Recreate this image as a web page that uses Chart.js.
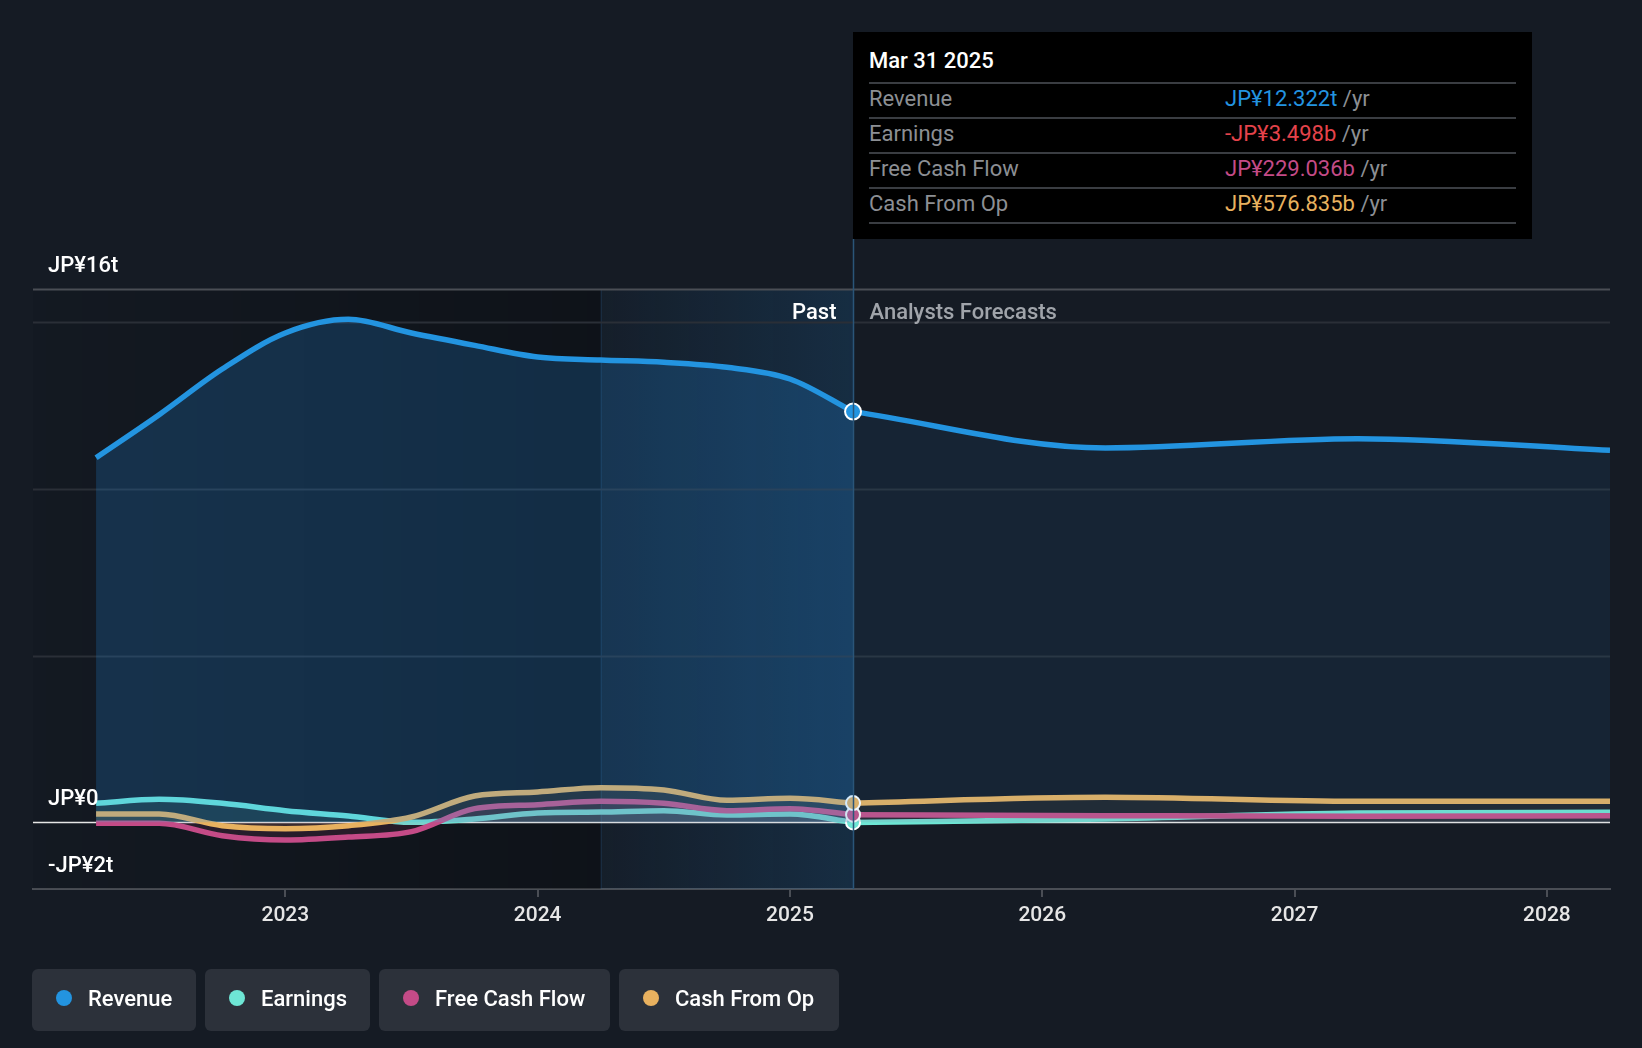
<!DOCTYPE html>
<html>
<head>
<meta charset="utf-8">
<script src="https://cdn.jsdelivr.net/npm/chart.js@4.4.1/dist/chart.umd.min.js"></script>
<style>
  html, body { margin:0; padding:0; background:#151b24; width:1642px; height:1048px; overflow:hidden; font-family: Roboto, "Noto Sans", sans-serif; }
  #wrap { position:absolute; left:0; top:0; width:1642px; height:1048px; }
  #tip { position:absolute; left:853px; top:32px; width:679px; height:207px; background:#000; box-sizing:border-box; padding:0 16px; color:#fff; }
  #tip .title { font-size:22px; height:50px; line-height:58px; border-bottom:2px solid #3a3d42; font-weight:500; }
  #tip .row { height:33px; line-height:30px; border-bottom:2px solid #3a3d42; font-size:22px; color:#8c8f94; position:relative; }
  #tip .row .v { position:absolute; left:356px; top:0; }
  #legend { position:absolute; left:32px; top:969px; display:flex; gap:9px; }
  .lg { height:62px; background:#2c313a; border-radius:6px; display:flex; align-items:center; padding:0 20px 4px 24px; color:#fff; font-size:22px; box-sizing:border-box; font-weight:500; }
  .lg .dot { width:16px; height:16px; border-radius:50%; margin-right:16px; }
</style>
</head>
<body>
<div id="wrap"><canvas id="c" width="1642" height="1048"></canvas></div>
<div id="tip">
  <div class="title">Mar 31 2025</div>
  <div class="row">Revenue<span class="v"><span style="color:#2394e0">JP¥12.322t</span> /yr</span></div>
  <div class="row">Earnings<span class="v"><span style="color:#e5434b">-JP¥3.498b</span> /yr</span></div>
  <div class="row">Free Cash Flow<span class="v"><span style="color:#c44b87">JP¥229.036b</span> /yr</span></div>
  <div class="row">Cash From Op<span class="v"><span style="color:#e8b15f">JP¥576.835b</span> /yr</span></div>
</div>
<div id="legend">
  <div class="lg" style="width:164px"><span class="dot" style="background:#2394e0"></span>Revenue</div>
  <div class="lg" style="width:165px"><span class="dot" style="background:#6ee6d5"></span>Earnings</div>
  <div class="lg" style="width:231px"><span class="dot" style="background:#c44b87"></span>Free Cash Flow</div>
  <div class="lg" style="width:220px"><span class="dot" style="background:#e8b15f"></span>Cash From Op</div>
</div>
<script>
// Dates as fractional years
const pastDates = [2022.25, 2022.5, 2022.75, 2023.0, 2023.25, 2023.5, 2023.75, 2024.0, 2024.25, 2024.5, 2024.75, 2025.0, 2025.25];
const forecastDates = [2025.25, 2026.25, 2027.25, 2028.25];

// Values in JP¥ trillions
const revenuePast = [10.94, 12.23, 13.6, 14.68, 15.09, 14.68, 14.31, 13.96, 13.87, 13.8, 13.65, 13.3, 12.322];
const revenueFc = [12.322, 11.23, 11.51, 11.16];
const earningsPast = [0.57, 0.69, 0.57, 0.35, 0.19, 0.0, 0.1, 0.28, 0.31, 0.35, 0.22, 0.25, -0.0035];
const earningsFc = [-0.0035, 0.1, 0.28, 0.3];
const fcfPast = [-0.03, -0.03, -0.4, -0.53, -0.44, -0.28, 0.41, 0.53, 0.63, 0.57, 0.35, 0.41, 0.229];
const fcfFc = [0.229, 0.2, 0.18, 0.2];
const cfoPast = [0.25, 0.25, -0.1, -0.19, -0.1, 0.16, 0.79, 0.91, 1.04, 0.97, 0.66, 0.72, 0.577];
const cfoFc = [0.577, 0.75, 0.63, 0.63];

const xTicks = [2023, 2024, 2025, 2026, 2027, 2028];
const yGrid = [0, 5, 10, 15, 16];
const yLabels = [{v:16, t:'JP¥16t'}, {v:0, t:'JP¥0'}, {v:-2, t:'-JP¥2t'}];

const nowX = 2025.25, hlStart = 2024.25;

const C = { rev:'#2394e0', earn:'#6ee6d5', fcf:'#c44b87', cfo:'#e8b15f' };

function pts(xs, ys){ return xs.map((x,i)=>({x, y:ys[i]})); }

function ds(label, xs, ys, color, fill, width, isPast){
  const n = xs.length;
  return {
    label, data: pts(xs, ys), borderColor: color, backgroundColor: fill,
    fill: 'origin', borderWidth: width, cubicInterpolationMode: 'monotone',
    pointRadius: xs.map((x,i)=> (isPast && i===n-1) ? (label==='Revenue'?8:7) : 0),
    pointBackgroundColor: color, pointBorderColor: '#fff', pointBorderWidth: 2,
    pointHoverRadius: 0
  };
}

const bgPlugin = {
  id:'bg',
  beforeDatasetsDraw(chart){
    const {ctx, chartArea:a, scales:{x,y}} = chart;
    ctx.save();
    const xs = x.getPixelForValue(hlStart);
    let g = ctx.createLinearGradient(a.left,0,xs,0);
    g.addColorStop(0,'rgba(0,0,0,0.05)');
    g.addColorStop(1,'rgba(0,0,0,0.30)');
    ctx.fillStyle = g; ctx.fillRect(a.left, a.top, xs-a.left, a.bottom-a.top);
    const xn = x.getPixelForValue(nowX);
    g = ctx.createLinearGradient(xs,0,xn,0);
    g.addColorStop(0,'rgba(33,150,243,0.03)');
    g.addColorStop(1,'rgba(33,150,243,0.15)');
    ctx.fillStyle = g; ctx.fillRect(xs, a.top, xn-xs, a.bottom-a.top);
    ctx.fillStyle='rgba(40,90,130,0.35)'; ctx.fillRect(xs, a.top, 1, a.bottom-a.top);
    yGrid.forEach(v=>{
      const py = Math.round(y.getPixelForValue(v))+0.5;
      ctx.strokeStyle = v===16 ? '#4a4e55' : (v===0 ? '#e6e6e6' : '#2a2f37');
      ctx.lineWidth = v===0 ? 1.5 : 2;
      ctx.beginPath(); ctx.moveTo(a.left, py); ctx.lineTo(a.right, py); ctx.stroke();
    });
    ctx.restore();
  },
  afterDatasetsDraw(chart){
    const {ctx, chartArea:a, scales:{x,y}} = chart;
    ctx.save();
    const xn = Math.round(x.getPixelForValue(nowX))+0.5;
    ctx.strokeStyle='#2a5578'; ctx.lineWidth=1.5;
    ctx.beginPath(); ctx.moveTo(xn, 239); ctx.lineTo(xn, a.bottom); ctx.stroke();
    ctx.font = '500 22px Roboto';
    ctx.textBaseline='middle';
    ctx.fillStyle='#ffffff'; ctx.textAlign='right';
    ctx.fillText('Past', xn-17, 313);
    ctx.fillStyle='#a0a4aa'; ctx.textAlign='left';
    ctx.fillText('Analysts Forecasts', xn+16, 313);
    ctx.fillStyle='#ffffff';
    yLabels.forEach(l=>{
      const py = y.getPixelForValue(l.v);
      ctx.fillText(l.t, 48, py-23);
    });
    ctx.restore();
  }
};

new Chart(document.getElementById('c'), {
  type:'line',
  data:{ datasets:[
    ds('Revenue', pastDates, revenuePast, C.rev, 'rgba(33,150,243,0.20)', 5.5, true),
    ds('Revenue', forecastDates, revenueFc, C.rev, 'rgba(33,150,243,0.08)', 5.5, false),
    ds('Cash From Op', pastDates, cfoPast, C.cfo, 'rgba(232,177,95,0.10)', 5.5, true),
    ds('Cash From Op', forecastDates, cfoFc, C.cfo, 'rgba(232,177,95,0.06)', 5.5, false),
    ds('Free Cash Flow', pastDates, fcfPast, C.fcf, 'rgba(196,75,135,0.12)', 5.5, true),
    ds('Free Cash Flow', forecastDates, fcfFc, C.fcf, 'rgba(196,75,135,0.06)', 5.5, false),
    ds('Earnings', pastDates, earningsPast, C.earn, 'rgba(110,230,213,0.12)', 5.5, true),
    ds('Earnings', forecastDates, earningsFc, C.earn, 'rgba(110,230,213,0.06)', 5.5, false),
  ]},
  options:{
    responsive:false, animation:false, events:[],
    layout:{ padding:{ left:33, right:32, top:289, bottom:99 } },
    plugins:{ legend:{display:false}, tooltip:{enabled:false} },
    scales:{
      x:{ type:'linear', min:2022.0, max:2028.25,
        afterBuildTicks(s){ s.ticks = xTicks.map(v=>({value:v})); },
        afterFit(s){ s.height = 60; },
        grid:{ drawOnChartArea:false, drawTicks:true, tickLength:8, color:'#4a4e55', lineWidth:2 },
        border:{ display:true, color:'#4a4e55', width:2 },
        ticks:{ color:'#e6e6e6', font:{family:'Roboto', size:21, weight:'500'}, padding:6, callback:v=>String(v), maxRotation:0 }
      },
      y:{ type:'linear', min:-2, max:16,
        afterFit(s){ s.width = 0; },
        grid:{ display:false }, border:{ display:false },
        ticks:{ display:false }
      }
    }
  },
  plugins:[bgPlugin]
});
</script>
</body>
</html>
